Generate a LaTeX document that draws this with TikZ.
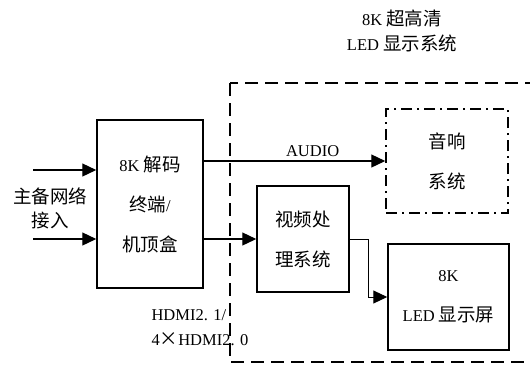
\documentclass[tikz,border=0pt]{standalone}
\usepackage{fontspec}
\setmainfont{Liberation Serif}
\newfontfamily\cjk{Noto Sans CJK SC}[Scale=1.12]
\usetikzlibrary{arrows.meta}

\begin{document}
\begin{tikzpicture}[
    x=1pt, y=-1pt,
    every node/.style = {font=\fontsize{16.5}{40}\selectfont},
    box/.style = {draw, line width=1.5pt, align=center, inner sep=0pt},
    arr/.style = {draw, line width=1.3pt, -{Triangle[length=14pt, width=13pt]}},
                    ]
    \useasboundingbox (0,0) rectangle (530,365);
    % dashed frame of the LED system
    \draw[line width=1.5pt, dash pattern=on 13pt off 7pt] (230,83) rectangle (545,362);
    \node (title) [align=center, font=\fontsize{16.5}{25}\selectfont] at (402,31)
          {8K {\cjk 超高清}\\LED {\cjk 显示系统}};

    \node (dec) [box, minimum width=106pt, minimum height=168pt] at (150,204)
          {8K {\cjk 解码}\\{\cjk 终端}/\\{\cjk 机顶盒}};
    \node (vid) [box, minimum width=92pt, minimum height=106pt] at (303,239)
          {\cjk 视频处\\\cjk 理系统};
    \node (aud) [box, dash pattern=on 11pt off 5pt on 2pt off 5pt,
                 minimum width=122pt, minimum height=104pt] at (447,161)
          {\cjk 音响\\\cjk 系统};
    \node (led) [box, minimum width=121pt, minimum height=106pt] at (448.5,297)
          {8K\\LED {\cjk 显示屏}};

    \node (net) [align=center, font=\cjk\fontsize{16.5}{24}\selectfont] at (50,208)
          {主备网络\\接入};
    % \node (hdmi) [below=of dec] {...};
    \node (hdmi) [align=left, anchor=west, font=\fontsize{16.5}{25}\selectfont] at (148,328)
          {HDMI2. 1/\\4{\cjk ×}HDMI2. 0};

    \coordinate (n1) at (33,170);
    \coordinate (n2) at (33,239);
    \draw[arr] (n1) -- (n1 -| dec.west);
    \draw[arr] (n2) -- (n2 -| dec.west);
    \draw[arr] (dec.east |- aud.west) -- node[above, pos=.6] {AUDIO} (aud.west);
    \draw[arr] (dec.east |- vid.west) -- (vid.west);
    \draw[arr, line width=1pt] (vid.east) -- ++(19,0) |- (led.west);
\end{tikzpicture}
\end{document}
